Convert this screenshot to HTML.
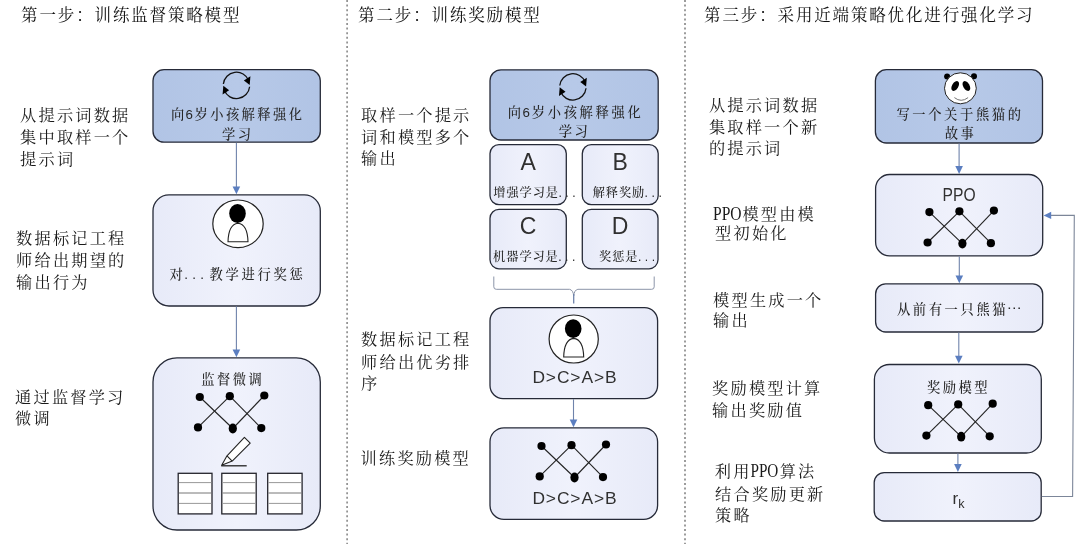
<!DOCTYPE html>
<html lang="zh-CN">
<head>
<meta charset="utf-8">
<title>RLHF 三步流程</title>
<style>
html,body{margin:0;padding:0;background:#fff;}
body{width:1080px;height:544px;overflow:hidden;}
svg{display:block;filter:blur(0.4px);}
text{white-space:pre;}
.se{font-family:"Liberation Serif", "Noto Serif CJK SC", serif;font-weight:400;}
.bx{font-family:"Liberation Sans", "Noto Serif CJK SC", serif;font-weight:500;}
.sa{font-family:"Liberation Sans", "Noto Sans CJK SC", sans-serif;}
</style>
</head>
<body>
<svg width="1080" height="544" viewBox="0 0 1080 544">
<rect width="1080" height="544" fill="#fff"/>
<defs><linearGradient id="lg" x1="0" y1="0" x2="1" y2="0"><stop offset="0" stop-color="#e7eaf8"/><stop offset="0.5" stop-color="#f0f2fc"/><stop offset="1" stop-color="#e7eaf8"/></linearGradient><linearGradient id="bg" x1="0" y1="0" x2="1" y2="0"><stop offset="0" stop-color="#b1c4e5"/><stop offset="0.5" stop-color="#b7c9e8"/><stop offset="1" stop-color="#b1c4e5"/></linearGradient></defs>
<line x1="347.1" y1="0" x2="347.1" y2="544" stroke="#808080" stroke-width="1.5" stroke-dasharray="2 2.6"/>
<line x1="685.0" y1="0" x2="685.0" y2="544" stroke="#9c9c9c" stroke-width="2" stroke-dasharray="2 2.6"/>
<text class="se" x="21.1 39.5 57.8 76.2 94.5 112.9 131.2 149.6 167.9 186.3 204.6 223.0" y="21.4" font-size="16.5" fill="#111" font-weight="500">第一步：训练监督策略模型</text>
<text class="se" x="358.1 376.5 394.8 413.2 431.5 449.9 468.2 486.6 504.9 523.3" y="21.4" font-size="16.5" fill="#111" font-weight="500">第二步：训练奖励模型</text>
<text class="se" x="704.1 722.5 740.8 759.2 777.5 795.9 814.2 832.6 850.9 869.3 887.6 906.0 924.3 942.7 961.0 979.4 997.7 1016.1" y="21.4" font-size="16.5" fill="#111" font-weight="500">第三步：采用近端策略优化进行强化学习</text>
<rect x="153" y="69.7" width="167.30" height="72.50" rx="11" ry="11" fill="url(#bg)" stroke="#262a38" stroke-width="1.3"/>
<path d="M223.37,84.02 A13.2,13.2 0 0 1 248.74,80.46" fill="none" stroke="#111" stroke-width="1.3"/>
<path d="M249.63,86.78 A13.2,13.2 0 0 1 224.26,90.34" fill="none" stroke="#111" stroke-width="1.3"/>
<polygon points="249.69,84.94 250.42,76.36 243.88,80.61" fill="#000"/>
<polygon points="223.31,85.86 222.58,94.44 229.12,90.19" fill="#000"/>
<text class="bx" x="171.0 185.5 194.5 210.2 225.9 241.6 257.3 273.0 288.7" y="118.6" font-size="13.3" fill="#262626">向6岁小孩解释强化</text>
<text class="bx" x="222.0 237.7" y="139" font-size="13.3" fill="#262626">学习</text>
<line x1="236.4" y1="142.8" x2="236.4" y2="187.39999999999998" stroke="#6f83ab" stroke-width="1.1"/>
<polygon points="232.6,186.39999999999998 240.20000000000002,186.39999999999998 236.4,194.2" fill="#5b7ec0"/>
<rect x="153" y="194.9" width="167.30" height="111.10" rx="16" ry="16" fill="url(#lg)" stroke="#262a38" stroke-width="1.3"/>
<ellipse cx="238" cy="223.8" rx="25.2" ry="23.8" fill="#fff" stroke="#222" stroke-width="1.2"/>
<path d="M228,241.8 Q228.5,224.20000000000002 238,223.20000000000002 Q247.5,224.20000000000002 248,241.8 Z" fill="#fff" stroke="#222" stroke-width="1.1"/>
<ellipse cx="237.5" cy="213.5" rx="8.3" ry="9.4" fill="#000"/>
<text class="bx" x="169.5 184.2 192.2 200.2 209.5 225.5 241.5 257.6 273.6 289.6" y="279.3" font-size="13.3" fill="#262626">对...教学进行奖惩</text>
<line x1="236.4" y1="306.6" x2="236.4" y2="350.4" stroke="#6f83ab" stroke-width="1.1"/>
<polygon points="232.6,349.4 240.20000000000002,349.4 236.4,357.2" fill="#5b7ec0"/>
<rect x="153" y="357.9" width="167.30" height="172.10" rx="24" ry="24" fill="url(#lg)" stroke="#262a38" stroke-width="1.3"/>
<text class="bx" x="201.3 217.0 232.7 248.4" y="384.3" font-size="13.3" fill="#262626">监督微调</text>
<line x1="199.8" y1="397.0" x2="232.8" y2="428.5" stroke="#222" stroke-width="1.1"/>
<line x1="229.8" y1="396.2" x2="198.0" y2="427.4" stroke="#222" stroke-width="1.1"/>
<line x1="229.8" y1="396.2" x2="261.3" y2="428.1" stroke="#222" stroke-width="1.1"/>
<line x1="264.3" y1="395.5" x2="232.8" y2="428.5" stroke="#222" stroke-width="1.1"/>
<ellipse cx="199.8" cy="397.0" rx="4.1" ry="4.1" fill="#000"/>
<ellipse cx="229.8" cy="396.2" rx="4.1" ry="4.1" fill="#000"/>
<ellipse cx="264.3" cy="395.5" rx="4.1" ry="4.1" fill="#000"/>
<ellipse cx="198.0" cy="427.4" rx="4.1" ry="4.1" fill="#000"/>
<ellipse cx="232.8" cy="428.5" rx="4.1" ry="4.8999999999999995" fill="#000"/>
<ellipse cx="261.3" cy="428.1" rx="4.1" ry="4.1" fill="#000"/>
<g stroke="#222" stroke-width="1.1" fill="#fff" stroke-linejoin="round">
<path d="M221.7,465.2 L227,455.8 L244.4,437.3 L250.2,443.1 L232.2,461.1 Z"/>
<path d="M227,455.8 L232.2,461.1" fill="none"/>
<line x1="221.2" y1="465.8" x2="246.7" y2="465.8" stroke-width="1.3"/>
</g>
<rect x="178.2" y="473.3" width="33.8" height="40.6" fill="#fff" stroke="#24242c" stroke-width="1.3"/>
<line x1="178.89999999999998" y1="482.6" x2="211.3" y2="482.6" stroke="#999" stroke-width="1"/>
<line x1="178.89999999999998" y1="493" x2="211.3" y2="493" stroke="#777" stroke-width="1"/>
<line x1="178.89999999999998" y1="503.4" x2="211.3" y2="503.4" stroke="#999" stroke-width="1"/>
<rect x="221.8" y="473.3" width="34.4" height="40.6" fill="#fff" stroke="#24242c" stroke-width="1.3"/>
<line x1="222.5" y1="482.6" x2="255.5" y2="482.6" stroke="#999" stroke-width="1"/>
<line x1="222.5" y1="493" x2="255.5" y2="493" stroke="#777" stroke-width="1"/>
<line x1="222.5" y1="503.4" x2="255.5" y2="503.4" stroke="#999" stroke-width="1"/>
<rect x="267.7" y="473.3" width="34.4" height="40.6" fill="#fff" stroke="#24242c" stroke-width="1.3"/>
<line x1="268.4" y1="482.6" x2="301.4" y2="482.6" stroke="#999" stroke-width="1"/>
<line x1="268.4" y1="493" x2="301.4" y2="493" stroke="#777" stroke-width="1"/>
<line x1="268.4" y1="503.4" x2="301.4" y2="503.4" stroke="#999" stroke-width="1"/>
<text class="se" x="20.1 38.5 56.9 75.3 93.7 112.1" y="121" font-size="16.2" fill="#1a1a1a">从提示词数据</text>
<text class="se" x="20.1 38.5 56.9 75.3 93.7 112.1" y="143" font-size="16.2" fill="#1a1a1a">集中取样一个</text>
<text class="se" x="20.1 38.5 56.9" y="165" font-size="16.2" fill="#1a1a1a">提示词</text>
<text class="se" x="16.1 34.5 52.9 71.3 89.7 108.1" y="244" font-size="16.2" fill="#1a1a1a">数据标记工程</text>
<text class="se" x="16.1 34.5 52.9 71.3 89.7 108.1" y="266" font-size="16.2" fill="#1a1a1a">师给出期望的</text>
<text class="se" x="16.1 34.5 52.9 71.3" y="288" font-size="16.2" fill="#1a1a1a">输出行为</text>
<text class="se" x="15.1 33.5 51.9 70.3 88.7 107.1" y="402.6" font-size="16.2" fill="#1a1a1a">通过监督学习</text>
<text class="se" x="15.1 33.5" y="424" font-size="16.2" fill="#1a1a1a">微调</text>
<rect x="490" y="69.8" width="168.20" height="70.20" rx="11" ry="11" fill="url(#bg)" stroke="#262a38" stroke-width="1.3"/>
<path d="M559.77,85.52 A13.2,13.2 0 0 1 585.14,81.96" fill="none" stroke="#111" stroke-width="1.3"/>
<path d="M586.03,88.28 A13.2,13.2 0 0 1 560.66,91.84" fill="none" stroke="#111" stroke-width="1.3"/>
<polygon points="586.09,86.44 586.82,77.86 580.28,82.11" fill="#000"/>
<polygon points="559.71,87.36 558.98,95.94 565.52,91.69" fill="#000"/>
<text class="bx" x="507.8 522.5 531.8 547.7 563.7 579.6 595.6 611.5 627.5" y="116.7" font-size="13.3" fill="#262626">向6岁小孩解释强化</text>
<text class="bx" x="558.8 574.5" y="136" font-size="13.3" fill="#262626">学习</text>
<rect x="490" y="144.6" width="76.30" height="60.10" rx="9" ry="9" fill="url(#lg)" stroke="#262a38" stroke-width="1.3"/>
<text class="sa" x="528.15" y="169.5" font-size="23" text-anchor="middle" fill="#303030">A</text>
<text class="bx" x="493.3 506.4 519.6 532.7 545.8 558.4 565.3 572.2" y="197.3" font-size="12.2" fill="#262626">增强学习是...</text>
<rect x="582.3" y="144.6" width="75.90" height="60.10" rx="9" ry="9" fill="url(#lg)" stroke="#262a38" stroke-width="1.3"/>
<text class="sa" x="620.25" y="169.5" font-size="23" text-anchor="middle" fill="#303030">B</text>
<text class="bx" x="592.7 605.8 618.9 632.0 644.6 651.5 658.4" y="197.3" font-size="12.2" fill="#262626">解释奖励...</text>
<rect x="490" y="209.3" width="76.30" height="59.50" rx="9" ry="9" fill="url(#lg)" stroke="#262a38" stroke-width="1.3"/>
<text class="sa" x="528.15" y="234.3" font-size="23" text-anchor="middle" fill="#303030">C</text>
<text class="bx" x="493.1 506.2 519.4 532.5 545.6 558.2 565.1 572.0" y="261" font-size="12.2" fill="#262626">机器学习是...</text>
<rect x="582.3" y="209.3" width="75.70" height="59.50" rx="9" ry="9" fill="url(#lg)" stroke="#262a38" stroke-width="1.3"/>
<text class="sa" x="620.15" y="234.3" font-size="23" text-anchor="middle" fill="#303030">D</text>
<text class="bx" x="599.1 612.2 625.3 637.9 644.8 651.7" y="261" font-size="12.2" fill="#262626">奖惩是...</text>
<path d="M493.8,276.5 L493.8,286.8 Q493.8,289.3 496.3,289.3 L569.5,289.3 Q573.2,290 573.7,296 Q574.2,290 577.9,289.3 L651.7,289.3 Q654.2,289.3 654.2,286.8 L654.2,276.5" fill="none" stroke="#8b94a8" stroke-width="1"/>
<line x1="573.7" y1="294" x2="573.7" y2="303.4" stroke="#6f83ab" stroke-width="1.3"/>
<rect x="490" y="307.7" width="167.60" height="90.90" rx="13" ry="13" fill="url(#lg)" stroke="#262a38" stroke-width="1.3"/>
<ellipse cx="573.7" cy="339" rx="24.6" ry="24" fill="#fff" stroke="#222" stroke-width="1.2"/>
<path d="M563.7,357 Q564.2,339.4 573.7,338.4 Q583.2,339.4 583.7,357 Z" fill="#fff" stroke="#222" stroke-width="1.1"/>
<ellipse cx="573.2" cy="328.7" rx="8.3" ry="9.4" fill="#000"/>
<text class="sa" x="532.4" y="383.2" font-size="17.4" letter-spacing="0.9" fill="#303030">D&gt;C&gt;A&gt;B</text>
<line x1="573.5" y1="399.2" x2="573.5" y2="420.5" stroke="#6f83ab" stroke-width="1.1"/>
<polygon points="569.7,419.5 577.3,419.5 573.5,427.3" fill="#5b7ec0"/>
<rect x="490" y="427.8" width="167.60" height="91.60" rx="14" ry="14" fill="url(#lg)" stroke="#262a38" stroke-width="1.3"/>
<line x1="541.5" y1="446.0" x2="574.5" y2="477.5" stroke="#222" stroke-width="1.1"/>
<line x1="571.5" y1="445.2" x2="539.7" y2="476.4" stroke="#222" stroke-width="1.1"/>
<line x1="571.5" y1="445.2" x2="603.0" y2="477.1" stroke="#222" stroke-width="1.1"/>
<line x1="606.0" y1="444.5" x2="574.5" y2="477.5" stroke="#222" stroke-width="1.1"/>
<ellipse cx="541.5" cy="446.0" rx="4.1" ry="4.1" fill="#000"/>
<ellipse cx="571.5" cy="445.2" rx="4.1" ry="4.1" fill="#000"/>
<ellipse cx="606.0" cy="444.5" rx="4.1" ry="4.1" fill="#000"/>
<ellipse cx="539.7" cy="476.4" rx="4.1" ry="4.1" fill="#000"/>
<ellipse cx="574.5" cy="477.5" rx="4.1" ry="4.8999999999999995" fill="#000"/>
<ellipse cx="603.0" cy="477.1" rx="4.1" ry="4.1" fill="#000"/>
<text class="sa" x="532.4" y="503.8" font-size="17.4" letter-spacing="0.9" fill="#303030">D&gt;C&gt;A&gt;B</text>
<text class="se" x="361.1 379.5 397.9 416.3 434.7 453.1" y="121" font-size="16.2" fill="#1a1a1a">取样一个提示</text>
<text class="se" x="361.1 379.5 397.9 416.3 434.7 453.1" y="143" font-size="16.2" fill="#1a1a1a">词和模型多个</text>
<text class="se" x="361.1 379.5" y="164" font-size="16.2" fill="#1a1a1a">输出</text>
<text class="se" x="361.1 379.5 397.9 416.3 434.7 453.1" y="345.1" font-size="16.2" fill="#1a1a1a">数据标记工程</text>
<text class="se" x="361.1 379.5 397.9 416.3 434.7 453.1" y="367.6" font-size="16.2" fill="#1a1a1a">师给出优劣排</text>
<text class="se" x="361.1" y="388.8" font-size="16.2" fill="#1a1a1a">序</text>
<text class="se" x="360.6 379.0 397.4 415.8 434.2 452.6" y="464" font-size="16.2" fill="#1a1a1a">训练奖励模型</text>
<rect x="875.4" y="69.7" width="167.10" height="73.30" rx="11" ry="11" fill="url(#bg)" stroke="#262a38" stroke-width="1.3"/>
<g>
<circle cx="947.1" cy="76.5" r="3" fill="#000"/><circle cx="974" cy="76.2" r="3" fill="#000"/>
<ellipse cx="960.4" cy="88.3" rx="15.9" ry="15.5" fill="#fff" stroke="#222" stroke-width="1"/>
<ellipse cx="955.2" cy="86" rx="3.1" ry="5.4" transform="rotate(32 955.2 86)" fill="#000"/>
<ellipse cx="966.4" cy="86" rx="3.1" ry="5.4" transform="rotate(-32 966.4 86)" fill="#000"/>
<path d="M954.4,97.6 Q961.2,103 968.1,97.6" fill="none" stroke="#777" stroke-width="1"/>
</g>
<text class="bx" x="896.4 912.3 928.2 944.1 960.0 975.9 991.8 1007.7" y="118.7" font-size="13.3" fill="#262626">写一个关于熊猫的</text>
<text class="bx" x="944.8 960.5" y="138" font-size="13.3" fill="#262626">故事</text>
<line x1="959.1" y1="143.6" x2="959.1" y2="167.1" stroke="#6f83ab" stroke-width="1.1"/>
<polygon points="955.3000000000001,166.1 962.9,166.1 959.1,173.9" fill="#5b7ec0"/>
<rect x="875.6" y="174.5" width="167.10" height="81.40" rx="14" ry="14" fill="url(#lg)" stroke="#262a38" stroke-width="1.3"/>
<text class="sa" x="942.6" y="200.5" font-size="17.8" textLength="33" lengthAdjust="spacingAndGlyphs" fill="#303030">PPO</text>
<line x1="929.4" y1="212.1" x2="962.4" y2="243.6" stroke="#222" stroke-width="1.1"/>
<line x1="959.4" y1="211.3" x2="927.6" y2="242.5" stroke="#222" stroke-width="1.1"/>
<line x1="959.4" y1="211.3" x2="990.9" y2="243.2" stroke="#222" stroke-width="1.1"/>
<line x1="993.9" y1="210.6" x2="962.4" y2="243.6" stroke="#222" stroke-width="1.1"/>
<ellipse cx="929.4" cy="212.1" rx="4.1" ry="4.1" fill="#000"/>
<ellipse cx="959.4" cy="211.3" rx="4.1" ry="4.1" fill="#000"/>
<ellipse cx="993.9" cy="210.6" rx="4.1" ry="4.1" fill="#000"/>
<ellipse cx="927.6" cy="242.5" rx="4.1" ry="4.1" fill="#000"/>
<ellipse cx="962.4" cy="243.6" rx="4.1" ry="4.8999999999999995" fill="#000"/>
<ellipse cx="990.9" cy="243.2" rx="4.1" ry="4.1" fill="#000"/>
<line x1="959.3" y1="256.5" x2="959.3" y2="276.5" stroke="#6f83ab" stroke-width="1.1"/>
<polygon points="955.5,275.5 963.0999999999999,275.5 959.3,283.3" fill="#5b7ec0"/>
<rect x="875.6" y="283.9" width="167.10" height="48.10" rx="10" ry="10" fill="url(#lg)" stroke="#262a38" stroke-width="1.3"/>
<text class="bx" x="896.9 912.8 928.7 944.6 960.5 976.4 992.3" y="314.2" font-size="13.3" fill="#262626">从前有一只熊猫</text>
<text class="bx" x="1006.6" y="309.2" font-size="15.5" font-weight="700" fill="#262626">…</text>
<line x1="958.8" y1="332.6" x2="958.8" y2="356.8" stroke="#6f83ab" stroke-width="1.1"/>
<polygon points="955.0,355.8 962.5999999999999,355.8 958.8,363.6" fill="#5b7ec0"/>
<rect x="874.4" y="364.5" width="166.90" height="88.50" rx="15" ry="15" fill="url(#lg)" stroke="#262a38" stroke-width="1.3"/>
<text class="bx" x="927.1 942.8 958.5 974.2" y="392.2" font-size="13.3" fill="#262626">奖励模型</text>
<line x1="928.2" y1="405.2" x2="961.2" y2="436.7" stroke="#222" stroke-width="1.1"/>
<line x1="958.2" y1="404.4" x2="926.4" y2="435.6" stroke="#222" stroke-width="1.1"/>
<line x1="958.2" y1="404.4" x2="989.7" y2="436.3" stroke="#222" stroke-width="1.1"/>
<line x1="992.7" y1="403.7" x2="961.2" y2="436.7" stroke="#222" stroke-width="1.1"/>
<ellipse cx="928.2" cy="405.2" rx="4.1" ry="4.1" fill="#000"/>
<ellipse cx="958.2" cy="404.4" rx="4.1" ry="4.1" fill="#000"/>
<ellipse cx="992.7" cy="403.7" rx="4.1" ry="4.1" fill="#000"/>
<ellipse cx="926.4" cy="435.6" rx="4.1" ry="4.1" fill="#000"/>
<ellipse cx="961.2" cy="436.7" rx="4.1" ry="4.8999999999999995" fill="#000"/>
<ellipse cx="989.7" cy="436.3" rx="4.1" ry="4.1" fill="#000"/>
<line x1="957.9" y1="453.6" x2="957.9" y2="465.09999999999997" stroke="#6f83ab" stroke-width="1.1"/>
<polygon points="954.1,464.09999999999997 961.6999999999999,464.09999999999997 957.9,471.9" fill="#5b7ec0"/>
<rect x="874.2" y="472.6" width="167.00" height="48.40" rx="10" ry="10" fill="url(#lg)" stroke="#262a38" stroke-width="1.3"/>
<text class="sa" x="952.6" y="504" font-size="17" fill="#303030">r<tspan font-size="12.6" dy="3.6">k</tspan></text>
<path d="M1041.8,496.5 H1072.6 L1074.3,215.4 H1050.5" fill="none" stroke="#7c8699" stroke-width="1.1"/>
<polygon points="1051.2,211.7 1051.2,219.1 1043.6,215.4" fill="#5b7ec0"/>
<text class="se" x="708.9 727.3 745.7 764.1 782.5 800.9" y="111" font-size="16.2" fill="#1a1a1a">从提示词数据</text>
<text class="se" x="708.9 727.3 745.7 764.1 782.5 800.9" y="133" font-size="16.2" fill="#1a1a1a">集取样一个新</text>
<text class="se" x="708.9 727.3 745.7 764.1" y="153.8" font-size="16.2" fill="#1a1a1a">的提示词</text>
<text class="se" x="713" y="220" font-size="19.6" textLength="28.6" lengthAdjust="spacingAndGlyphs" fill="#1a1a1a">PPO</text>
<text class="se" x="742.4 760.8 779.2 797.6" y="220" font-size="16.2" fill="#1a1a1a">模型由模</text>
<text class="se" x="715.1 733.5 751.9 770.3" y="239" font-size="16.2" fill="#1a1a1a">型初始化</text>
<text class="se" x="713.1 731.5 749.9 768.3 786.7 805.1" y="306" font-size="16.2" fill="#1a1a1a">模型生成一个</text>
<text class="se" x="713.1 731.5" y="326" font-size="16.2" fill="#1a1a1a">输出</text>
<text class="se" x="712.1 730.5 748.9 767.3 785.7 804.1" y="394.4" font-size="16.2" fill="#1a1a1a">奖励模型计算</text>
<text class="se" x="712.1 730.5 748.9 767.3 785.7" y="416" font-size="16.2" fill="#1a1a1a">输出奖励值</text>
<text class="se" x="714.8 733.2" y="477.2" font-size="16.2" fill="#1a1a1a">利用</text>
<text class="se" x="750.4" y="477.2" font-size="19.6" textLength="28" lengthAdjust="spacingAndGlyphs" fill="#1a1a1a">PPO</text>
<text class="se" x="779.7 798.1" y="477.2" font-size="16.2" fill="#1a1a1a">算法</text>
<text class="se" x="715.1 733.5 751.9 770.3 788.7 807.1" y="499.6" font-size="16.2" fill="#1a1a1a">结合奖励更新</text>
<text class="se" x="715.1 733.5" y="520.8" font-size="16.2" fill="#1a1a1a">策略</text>
</svg>
</body>
</html>
